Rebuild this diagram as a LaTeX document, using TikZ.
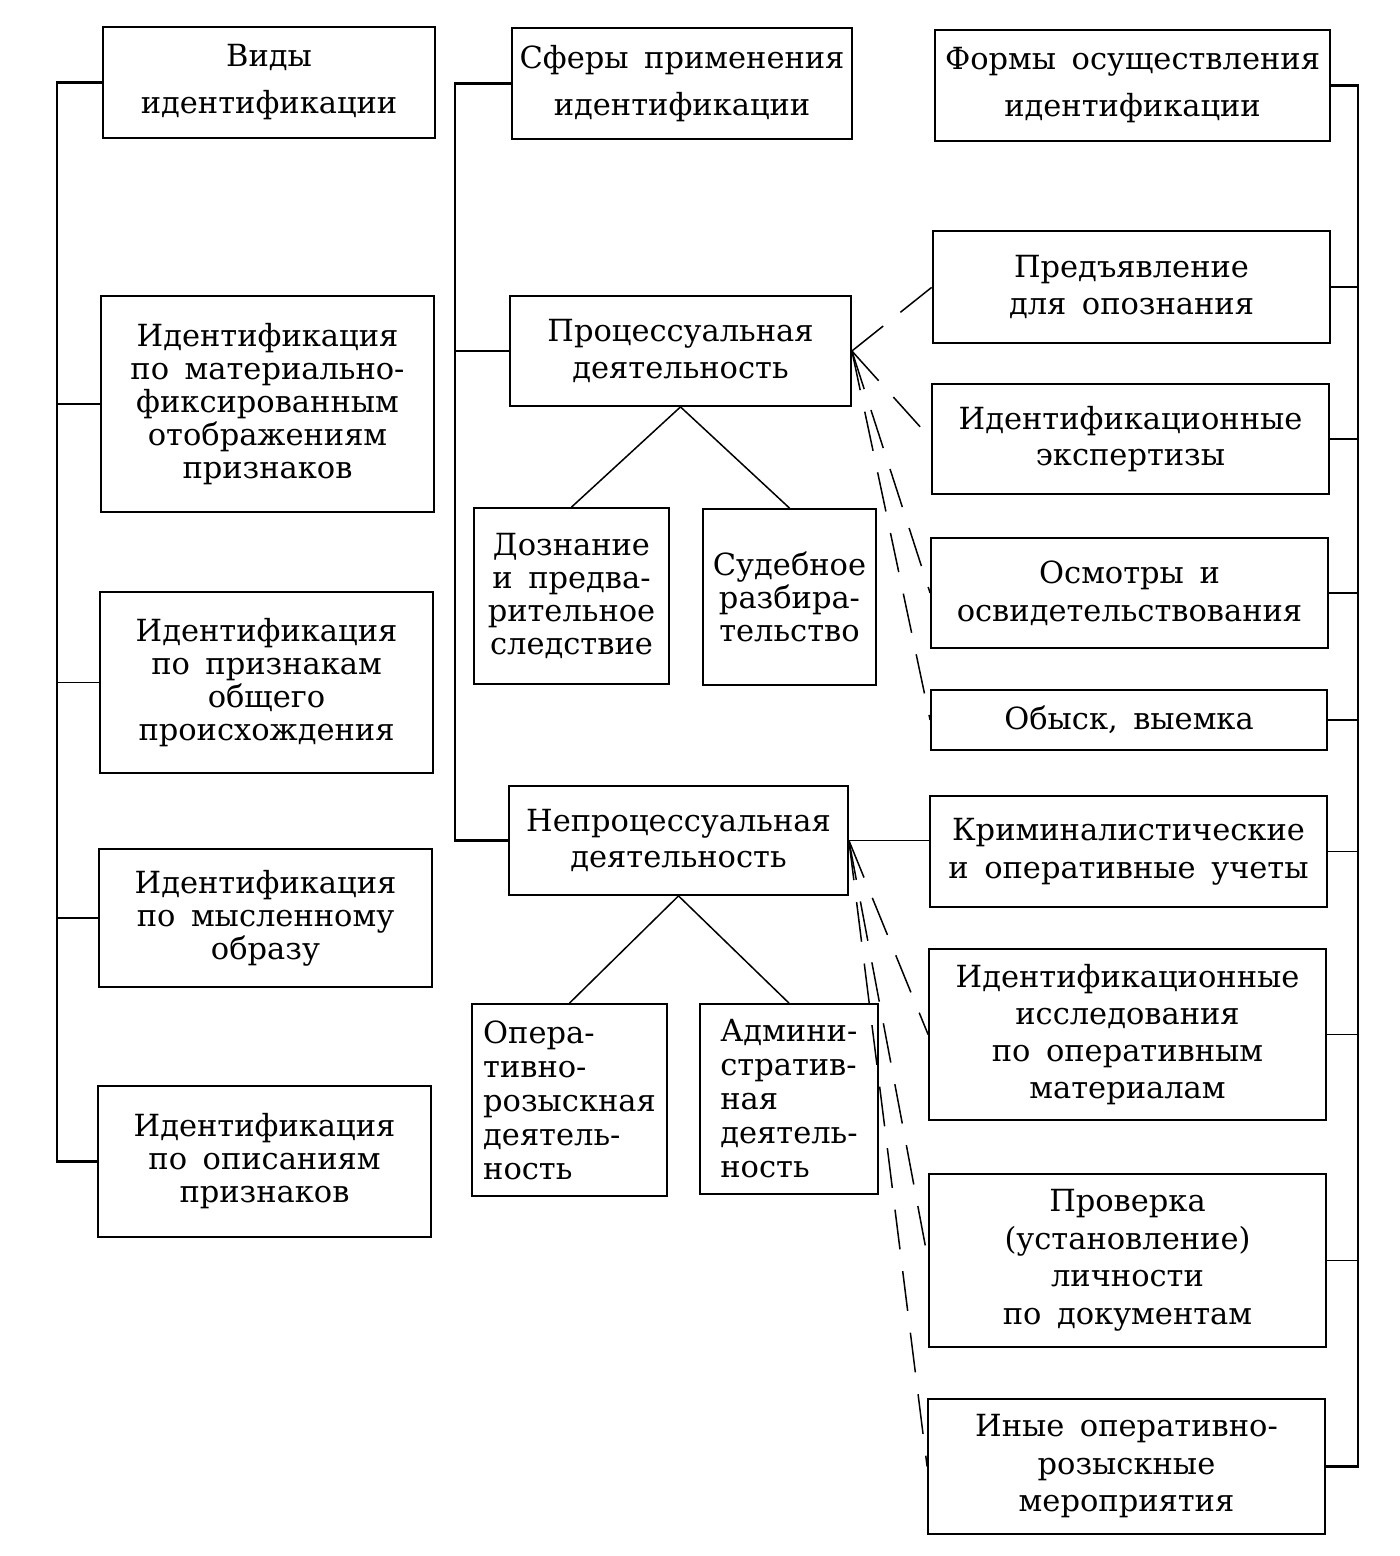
\documentclass[tikz,border=0pt]{standalone}
\usepackage{fontspec}
\setmainfont[WordSpace=1.6]{DejaVu Serif}
\usetikzlibrary{calc}
\begin{document}
\begin{tikzpicture}[x=1pt,y=-1pt,
  box/.style={draw, line width=1.8pt, inner sep=0pt, align=center, font=\fontsize{30.5}{34}\selectfont},
  lsp/.style={font=\fontsize{30.5}{#1}\selectfont},
  link/.style={line width=1.5pt},
  bus/.style={line width=2.2pt},
  dlink/.style={line width=1.5pt, dash pattern=on 40pt off 22pt}]
\useasboundingbox (0,0) rectangle (1400,1556);
\fill[white] (0,0) rectangle (1400,1556);

% left column
\node[box, lsp=47, minimum width=332pt, minimum height=111pt] (vid) at (269,82.5) {Виды\\идентификации};
\node[box, lsp=33, minimum width=333pt, minimum height=216pt] (mat) at (267.5,404) {Идентификация\\по материально-\\фиксированным\\отображениям\\признаков};
\node[box, lsp=33, minimum width=333pt, minimum height=181pt] (obsh) at (266.5,682.5) {Идентификация\\по признакам\\общего\\происхождения};
\node[box, lsp=33, minimum width=333pt, minimum height=138pt] (mysl) at (265.5,918) {Идентификация\\по мысленному\\образу};
\node[box, lsp=33, minimum width=333pt, minimum height=151pt] (opis) at (264.5,1161.5) {Идентификация\\по описаниям\\признаков};

% middle column
\node[box, lsp=47, minimum width=340pt, minimum height=111pt] (sfery) at (682,83.5) {Сферы применения\\идентификации};
\node[box, lsp=37, minimum width=341pt, minimum height=110pt] (proc) at (680.5,351) {Процессуальная\\деятельность};
\node[box, lsp=33, minimum width=195pt, minimum height=176pt] (dozn) at (571.5,596) {Дознание\\и предва-\\рительное\\следствие};
\node[box, lsp=33, minimum width=173pt, minimum height=176pt] (sud) at (789.5,597) {Судебное\\разбира-\\тельство};
\node[box, lsp=36, minimum width=339pt, minimum height=109pt] (neproc) at (678.5,840.5) {Непроцессуальная\\деятельность};
\node[box, lsp=34, align=left, minimum width=195pt, minimum height=192pt] (orm) at (569.5,1100) {Опера-\\тивно-\\розыскная\\деятель-\\ность};
\node[box, lsp=34, align=left, minimum width=178pt, minimum height=190pt] (adm) at (789,1099) {Админи-\\стратив-\\ная\\деятель-\\ность};

% right column
\node[box, lsp=47, minimum width=395pt, minimum height=111pt] (formy) at (1132.5,85.5) {Формы осуществления\\идентификации};
\node[box, lsp=37, minimum width=397pt, minimum height=112pt] (predj) at (1131.5,287) {Предъявление\\для опознания};
\node[box, lsp=36, minimum width=397pt, minimum height=110pt] (ekspert) at (1130.5,439) {Идентификационные\\экспертизы};
\node[box, lsp=38, minimum width=397pt, minimum height=110pt] (osm) at (1129.5,593) {Осмотры и\\освидетельствования};
\node[box, minimum width=396pt, minimum height=60pt] (obysk) at (1129,720) {Обыск, выемка};
\node[box, lsp=38, minimum width=397pt, minimum height=111pt] (krim) at (1128.5,851.5) {Криминалистические\\и оперативные учеты};
\node[box, lsp=37, minimum width=397pt, minimum height=171pt] (issled) at (1127.5,1034.5) {Идентификационные\\исследования\\по оперативным\\материалам};
\node[box, lsp=37.5, minimum width=397pt, minimum height=173pt] (prov) at (1127.5,1260.5) {Проверка\\(установление)\\личности\\по документам};
\node[box, lsp=37.5, minimum width=397pt, minimum height=135pt] (inye) at (1126.5,1466.5) {Иные оперативно-\\розыскные\\мероприятия};

% buses
\coordinate (busL) at (57,0);
\coordinate (busM) at (455,0);
\coordinate (busR) at (1358,0);
\draw[bus] (vid.west) -- (vid.west -| busL) -- (opis.west -| busL) -- (opis.west);
\foreach \n in {mat,obsh,mysl} \draw[link] (\n.west) -- (\n.west -| busL);
\draw[bus] (sfery.west) -- (sfery.west -| busM) -- (neproc.west -| busM) -- (neproc.west);
\draw[link] (proc.west) -- (proc.west -| busM);
\draw[bus] (formy.east) -- (formy.east -| busR) -- (inye.east -| busR) -- (inye.east);
\foreach \n in {predj,ekspert,osm,obysk,krim,issled,prov} \draw[link] (\n.east) -- (\n.east -| busR);

% trees
\draw[link] (dozn.north) -- (proc.south) -- (sud.north);
\draw[link] (orm.north) -- (neproc.south) -- (adm.north);

% links to forms
\foreach \n in {predj,ekspert,osm,obysk} \draw[dlink] (proc.east) -- (\n.west);
\draw[link] (neproc.east) -- (neproc.east -| krim.west);
\foreach \n in {issled,prov,inye} \draw[dlink] (neproc.east) -- (\n.west);
\end{tikzpicture}
\end{document}
